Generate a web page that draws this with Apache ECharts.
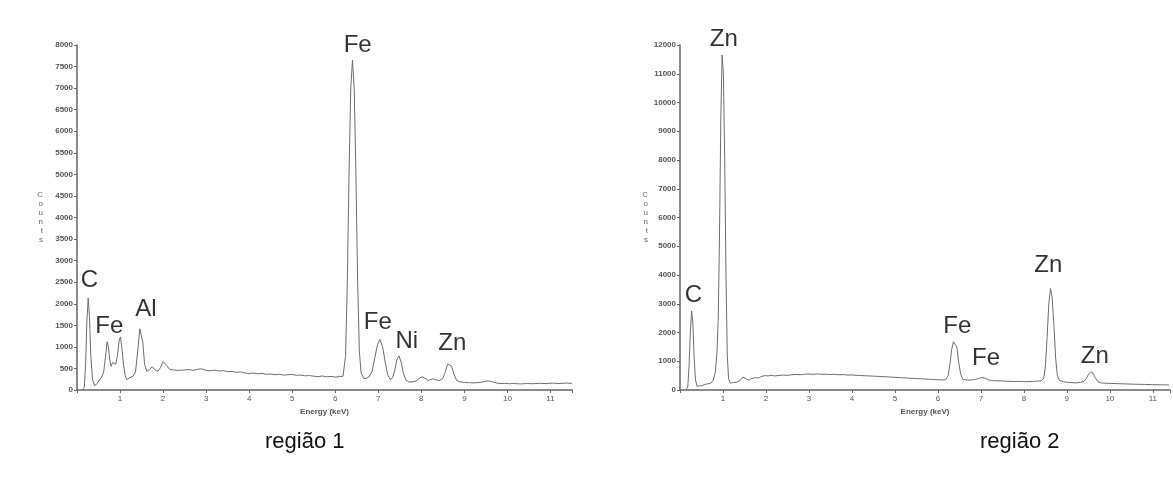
<!DOCTYPE html>
<html>
<head>
<meta charset="utf-8">
<title>EDS região 1 / região 2</title>
<script src="https://cdn.jsdelivr.net/npm/echarts@6/dist/echarts.min.js"></script>
<style>
  html, body { margin: 0; padding: 0; background: #fff; }
  #chart { width: 1173px; height: 479px; }
</style>
</head>
<body>
<div id="chart"></div>
<script>
// espectro região 1: [energia keV, contagens]
var spec1 = [
  [0.12, 0], [0.17, 60], [0.20, 600], [0.23, 1600], [0.26, 2130], [0.29, 1700], [0.32, 800],
  [0.36, 250], [0.41, 100], [0.46, 140], [0.52, 230], [0.57, 290], [0.62, 420], [0.66, 750],
  [0.70, 1120], [0.73, 1000], [0.76, 700], [0.79, 550], [0.83, 640], [0.86, 670], [0.90, 600],
  [0.94, 800], [0.98, 1150], [1.01, 1230], [1.04, 1000], [1.08, 600], [1.12, 330], [1.16, 240],
  [1.22, 280], [1.30, 320], [1.36, 420], [1.41, 900], [1.46, 1420], [1.49, 1460], [1.53, 1100],
  [1.57, 600], [1.62, 430], [1.68, 470], [1.75, 540], [1.81, 470], [1.88, 435], [1.94, 520],
  [2.00, 660], [2.04, 680], [2.09, 560], [2.15, 480], [2.25, 465], [2.35, 455], [2.45, 460],
  [2.55, 470], [2.6, 475], [2.7, 455], [2.8, 480], [2.9, 490], [3.0, 455], [3.1, 445],
  [3.2, 460], [3.3, 440], [3.4, 450], [3.5, 425], [3.6, 430], [3.7, 410], [3.8, 420],
  [3.9, 395], [4.0, 380], [4.1, 395], [4.2, 375], [4.3, 385], [4.4, 365], [4.5, 370],
  [4.6, 355], [4.7, 365], [4.8, 345], [4.9, 355], [5.0, 360], [5.1, 340], [5.2, 345],
  [5.3, 330], [5.4, 335], [5.5, 320], [5.6, 310], [5.7, 325], [5.8, 305], [5.9, 315],
  [6.0, 300], [6.1, 310], [6.18, 320], [6.24, 800], [6.28, 2500], [6.32, 5000], [6.36, 7000],
  [6.40, 7650], [6.44, 7000], [6.48, 5000], [6.52, 2500], [6.56, 900], [6.60, 400], [6.66, 270],
  [6.72, 270], [6.78, 300], [6.85, 420], [6.92, 750], [6.98, 1050], [7.04, 1170], [7.10, 1000],
  [7.16, 650], [7.22, 350], [7.28, 245], [7.33, 280], [7.38, 450], [7.43, 700], [7.48, 790],
  [7.53, 650], [7.58, 400], [7.64, 230], [7.71, 185], [7.80, 190], [7.88, 210], [7.95, 270],
  [8.02, 305], [8.09, 270], [8.16, 220], [8.22, 245], [8.28, 260], [8.34, 235], [8.42, 215],
  [8.50, 270], [8.56, 430], [8.61, 600], [8.65, 645], [8.70, 560], [8.76, 360], [8.82, 220],
  [8.90, 190], [9.0, 175], [9.1, 170], [9.2, 165], [9.3, 168], [9.4, 180], [9.5, 205],
  [9.56, 210], [9.65, 190], [9.75, 160], [9.85, 150], [9.95, 155], [10.05, 145], [10.15, 150],
  [10.3, 140], [10.45, 150], [10.6, 145], [10.75, 155], [10.9, 150], [11.05, 160], [11.2, 150],
  [11.35, 160], [11.5, 155]
];

// espectro região 2
var spec2 = [
  [0.13, 0], [0.18, 100], [0.21, 800], [0.24, 2000], [0.27, 2750], [0.30, 2300], [0.33, 1100],
  [0.36, 350], [0.40, 120], [0.45, 150], [0.50, 140], [0.55, 180], [0.60, 200], [0.66, 220],
  [0.72, 240], [0.77, 330], [0.82, 600], [0.86, 1300], [0.89, 2500], [0.92, 5500], [0.95, 9500],
  [0.98, 11650], [1.01, 11000], [1.04, 8000], [1.07, 4000], [1.10, 1200], [1.13, 400], [1.17, 240],
  [1.25, 260], [1.33, 280], [1.40, 330], [1.46, 450], [1.50, 470], [1.55, 380], [1.60, 340],
  [1.67, 400], [1.75, 430], [1.82, 420], [1.90, 470], [1.97, 500], [2.05, 490], [2.12, 510],
  [2.2, 490], [2.3, 505], [2.4, 520], [2.5, 510], [2.6, 530], [2.7, 540], [2.8, 530],
  [2.9, 550], [3.0, 555], [3.1, 545], [3.2, 560], [3.3, 545], [3.4, 550], [3.5, 540],
  [3.6, 545], [3.7, 530], [3.8, 535], [3.9, 520], [4.0, 525], [4.1, 510], [4.2, 505],
  [4.3, 495], [4.4, 490], [4.5, 480], [4.6, 475], [4.7, 465], [4.8, 460], [4.9, 450],
  [5.0, 440], [5.1, 435], [5.2, 425], [5.3, 415], [5.4, 405], [5.5, 400], [5.6, 390],
  [5.7, 385], [5.8, 370], [5.9, 365], [6.0, 355], [6.1, 350], [6.18, 360], [6.24, 500],
  [6.28, 900], [6.32, 1400], [6.36, 1680], [6.40, 1710], [6.44, 1500], [6.48, 1000], [6.53, 550],
  [6.58, 380], [6.65, 350], [6.75, 345], [6.85, 360], [6.95, 400], [7.02, 430], [7.08, 420],
  [7.16, 360], [7.25, 330], [7.35, 320], [7.5, 315], [7.6, 305], [7.7, 300], [7.8, 295],
  [7.9, 300], [8.0, 290], [8.1, 290], [8.2, 300], [8.3, 305], [8.4, 320], [8.46, 400],
  [8.50, 800], [8.54, 1800], [8.58, 3000], [8.62, 3530], [8.66, 3200], [8.70, 2200], [8.74, 1100],
  [8.78, 500], [8.83, 330], [8.92, 290], [9.02, 265], [9.12, 255], [9.22, 250], [9.32, 265],
  [9.40, 300], [9.46, 420], [9.51, 560], [9.56, 635], [9.61, 590], [9.66, 430], [9.72, 290],
  [9.80, 245], [9.9, 235], [10.0, 230], [10.2, 220], [10.4, 210], [10.6, 200], [10.8, 195],
  [11.0, 185], [11.2, 180], [11.38, 175]
];

// rótulos dos picos: [energia, contagens, elemento]
var peaks1 = [
  [0.29, 2550, 'C'], [0.75, 1465, 'Fe'], [1.60, 1865, 'Al'], [6.52, 7990, 'Fe'],
  [6.99, 1570, 'Fe'], [7.66, 1125, 'Ni'], [8.72, 1085, 'Zn']
];
var peaks2 = [
  [0.31, 3300, 'C'], [1.02, 12180, 'Zn'], [6.45, 2220, 'Fe'], [7.12, 1100, 'Fe'],
  [8.57, 4340, 'Zn'], [9.65, 1180, 'Zn']
];

var regionNames = ['região 1', 'região 2'];
var yMax = [8000, 12000];
var yStep = [500, 1000];
var xMax = [11.5, 11.4];

var chart = echarts.init(document.getElementById('chart'));

var tickFont = { fontFamily: 'Liberation Sans', fontSize: 8, color: '#555' };

function makeX(i) {
  return {
    type: 'value', gridIndex: i, min: 0, max: xMax[i], interval: 1,
    name: 'Energy (keV)', nameLocation: 'middle', nameGap: 17,
    nameTextStyle: { fontFamily: 'Liberation Sans', fontSize: 8, fontWeight: 'bold', color: '#555' },
    axisLine: { lineStyle: { color: '#666', width: 1.5 } },
    axisTick: { length: 3, lineStyle: { color: '#666' } },
    axisLabel: Object.assign({ margin: 5, formatter: function (v) {
      return (v > 0 && Number.isInteger(v)) ? String(v) : '';
    } }, tickFont),
    splitLine: { show: false }
  };
}

function makeY(i) {
  return {
    type: 'value', gridIndex: i, min: 0, max: yMax[i], interval: yStep[i],
    name: 'C\no\nu\nn\nt\ns', nameLocation: 'middle', nameRotate: 0, nameGap: i === 0 ? 34 : 32,
    nameTextStyle: { fontFamily: 'Liberation Sans', fontSize: 8, lineHeight: 9, color: '#666' },
    axisLine: { show: true, lineStyle: { color: '#666', width: 1.5 } },
    axisTick: { show: true, length: 3, lineStyle: { color: '#666' } },
    axisLabel: Object.assign({ margin: 4, fontWeight: 'bold', formatter: function (v) {
      return String(v);
    } }, tickFont),
    splitLine: { show: false }
  };
}

function peakSeries(i, arr) {
  return {
    type: 'scatter', xAxisIndex: i, yAxisIndex: i, symbolSize: 0, clip: false,
    silent: true,
    data: arr.map(function (p) { return { name: p[2], value: [p[0], p[1]] }; }),
    label: {
      show: true, position: 'inside', formatter: '{b}',
      fontFamily: 'Liberation Sans', fontSize: 24, color: '#000',
      textBorderWidth: 0
    }
  };
}

function specSeries(i, arr) {
  return {
    type: 'line', xAxisIndex: i, yAxisIndex: i, data: arr,
    showSymbol: false, smooth: false,
    lineStyle: { color: '#6e6e6e', width: 1 }
  };
}

chart.setOption({
  backgroundColor: '#fff',
  animation: false,
  title: [
    { text: regionNames[0], left: 260, top: 426,
      textStyle: { fontFamily: 'Liberation Sans', fontSize: 22, fontWeight: 'normal', color: '#111' } },
    { text: regionNames[1], left: 975, top: 426,
      textStyle: { fontFamily: 'Liberation Sans', fontSize: 22, fontWeight: 'normal', color: '#111' } }
  ],
  grid: [
    { left: 77, top: 45, width: 495, height: 345 },
    { left: 680, top: 45, width: 494, height: 345 }
  ],
  xAxis: [makeX(0), makeX(1)],
  yAxis: [makeY(0), makeY(1)],
  series: [
    specSeries(0, spec1),
    specSeries(1, spec2),
    peakSeries(0, peaks1),
    peakSeries(1, peaks2)
  ]
});
</script>
</body>
</html>
